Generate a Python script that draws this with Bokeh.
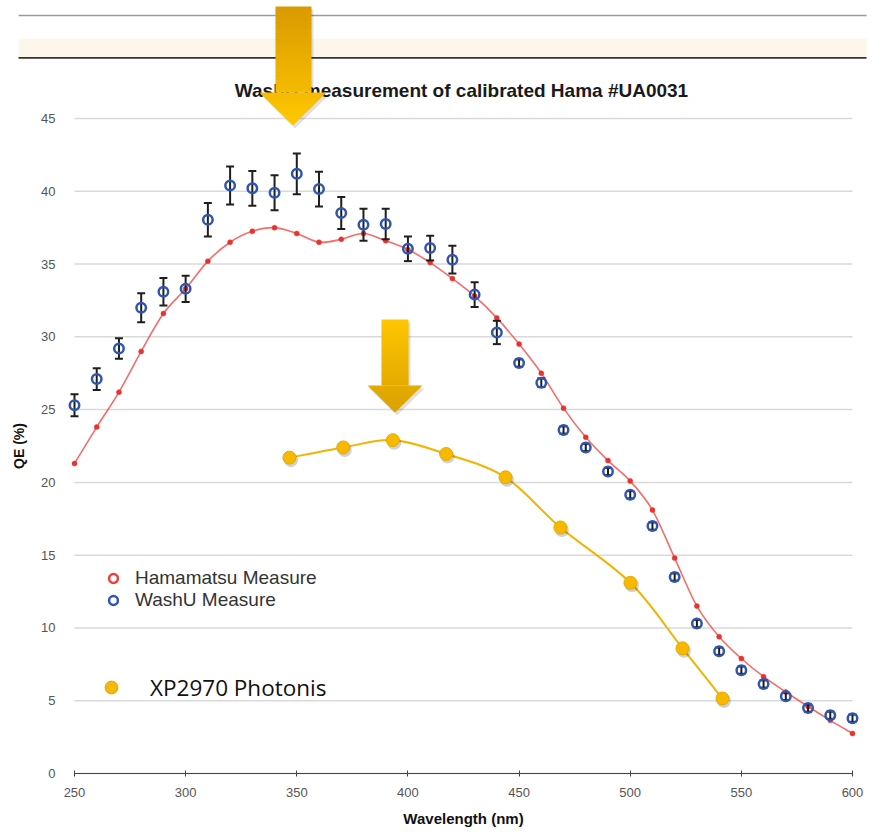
import numpy as np
from bokeh.plotting import figure
from bokeh.models import (Range1d, FixedTicker, Label, PolyAnnotation, Whisker,
                          TeeHead, ColumnDataSource, Legend, LegendItem)
from bokeh.embed import file_html
from bokeh.resources import INLINE

# ---------------- data ----------------
title_text = "WashU measurement of calibrated Hama #UA0031"
x_label = "Wavelength (nm)"
y_label = "QE (%)"
x_ticks = [250, 300, 350, 400, 450, 500, 550, 600]
y_ticks = [0, 5, 10, 15, 20, 25, 30, 35, 40, 45]

hama_wl = [250, 260, 270, 280, 290, 300, 310, 320, 330, 340, 350, 360,
           370, 380, 390, 400, 410, 420, 430, 440, 450, 460, 470, 480,
           490, 500, 510, 520, 530, 540, 550, 560, 570, 580, 590, 600]
hama_qe = [21.3, 23.8, 26.2, 29.0, 31.6, 33.3, 35.2, 36.5, 37.25, 37.5, 37.1, 36.5,
           36.7, 37.1, 36.6, 36.0, 35.1, 34.0, 32.8, 31.3, 29.5, 27.5, 25.1, 23.1,
           21.5, 20.1, 18.1, 14.8, 11.5, 9.4, 7.9, 6.65, 5.6, 4.6, 3.65, 2.75]

washu_wl = hama_wl
washu_qe = [25.3, 27.1, 29.2, 32.0, 33.1, 33.3, 38.05, 40.4, 40.2, 39.9, 41.2, 40.15,
            38.5, 37.7, 37.75, 36.05, 36.1, 35.3, 32.9, 30.3, 28.2, 26.85, 23.6, 22.4,
            20.75, 19.15, 17.0, 13.5, 10.3, 8.4, 7.1, 6.15, 5.3, 4.5, 4.0, 3.8]
washu_err = [0.75, 0.75, 0.7, 1.0, 0.95, 0.9, 1.15, 1.3, 1.2, 1.2, 1.4, 1.2,
             1.1, 1.1, 1.05, 0.85, 0.85, 0.95, 0.85, 0.8, 0.25, 0.3, 0.25, 0.25,
             0.25, 0.25, 0.25, 0.25, 0.25, 0.25, 0.25, 0.25, 0.25, 0.25, 0.25, 0.25]

phot_wl = [346.7, 370.9, 393.2, 417.2, 443.9, 468.6, 500.1, 523.5, 541.5]
phot_qe = [21.7, 22.4, 22.9, 21.95, 20.35, 16.9, 13.1, 8.6, 5.15]

legend_hama = "Hamamatsu Measure"
legend_washu = "WashU Measure"
legend_phot = "XP2970 Photonis"

# ---------------- layout helpers (pixel -> data) ----------------
W, H = 876, 832
FL, FR, FT, FB = 74, 852, 118, 773      # pixel box of the data area
X0, X1, Y0, Y1 = 250, 600, 0, 45


def px2x(px):
    return X0 + (px - FL) * (X1 - X0) / (FR - FL)


def py2y(py):
    return Y0 + (FB - py) * (Y1 - Y0) / (FB - FT)


def catmull_bezier(xs, ys):
    xs = np.asarray(xs, float)
    ys = np.asarray(ys, float)
    n = len(xs)
    px = np.concatenate([[xs[0]], xs, [xs[-1]]])
    py = np.concatenate([[ys[0]], ys, [ys[-1]]])
    i = np.arange(n - 1)
    return dict(x0=xs[:-1], y0=ys[:-1], x1=xs[1:], y1=ys[1:],
                cx0=px[i + 1] + (px[i + 2] - px[i]) / 6.0,
                cy0=py[i + 1] + (py[i + 2] - py[i]) / 6.0,
                cx1=px[i + 2] - (px[i + 3] - px[i + 1]) / 6.0,
                cy1=py[i + 2] - (py[i + 3] - py[i + 1]) / 6.0)


def mix(c1, c2, t):
    a = [int(c1[k:k + 2], 16) for k in (1, 3, 5)]
    b = [int(c2[k:k + 2], 16) for k in (1, 3, 5)]
    return "#%02x%02x%02x" % tuple(int(round(a[j] + (b[j] - a[j]) * t)) for j in range(3))


FONT = "Liberation Sans"

# the frame covers the whole canvas; axes are pinned at data locations
p = figure(width=W, height=H,
           x_range=Range1d(px2x(0), px2x(W)), y_range=Range1d(py2y(H), py2y(0)),
           output_backend="svg", toolbar_location=None,
           min_border=0, min_border_left=0, min_border_right=0,
           min_border_top=0, min_border_bottom=0,
           outline_line_color=None, background_fill_color="white",
           border_fill_color="white")

# axes
p.xaxis.ticker = FixedTicker(ticks=x_ticks)
p.yaxis.ticker = FixedTicker(ticks=y_ticks)
p.xaxis.fixed_location = Y0
p.yaxis.fixed_location = X0
p.xaxis.bounds = (X0, X1)
p.yaxis.bounds = (Y0, Y1)
p.xaxis.axis_label = x_label
p.yaxis.axis_label = y_label
for ax in (p.xaxis[0], p.yaxis[0]):
    ax.major_label_text_font = FONT
    ax.major_label_text_font_size = "13px"
    ax.major_label_text_color = "#555555"
    ax.axis_label_text_font = FONT
    ax.axis_label_text_font_style = "bold"
    ax.axis_label_text_color = "#111111"
    ax.minor_tick_line_color = None
p.xaxis.axis_label_text_font_size = "15px"
p.yaxis.axis_label_text_font_size = "14px"
p.xaxis.axis_line_color = "#444444"
p.xaxis.axis_line_width = 1.2
p.xaxis.major_tick_line_color = "#444444"
p.xaxis.major_tick_in = 3
p.xaxis.major_tick_out = 3
p.xaxis.major_label_standoff = 11
p.xaxis.axis_label_standoff = 10
p.yaxis.axis_line_color = None
p.yaxis.major_tick_line_color = None
p.yaxis.major_tick_in = 0
p.yaxis.major_tick_out = 0
p.yaxis.major_label_standoff = 19
p.yaxis.axis_label_standoff = 11

p.xgrid.visible = False
p.ygrid.visible = False
# horizontal grid lines limited to the data span
p.segment(x0=X0, x1=X1, y0=y_ticks, y1=y_ticks, line_color="#d9d9d9",
          line_width=1.5, level="underlay")

# Hamamatsu: smooth red line + small dots
p.bezier(source=ColumnDataSource(catmull_bezier(hama_wl, hama_qe)),
         x0="x0", y0="y0", x1="x1", y1="y1", cx0="cx0", cy0="cy0", cx1="cx1", cy1="cy1",
         line_color="#f04a45", line_alpha=0.8, line_width=1.6)
p.scatter(hama_wl, hama_qe, marker="circle", size=5, fill_color="#e8322e",
          line_color="#e8322e", line_width=0.5)

# WashU: error bars then open blue circles
wsrc = ColumnDataSource(dict(x=washu_wl, y=washu_qe,
                             upper=[v + e for v, e in zip(washu_qe, washu_err)],
                             lower=[v - e for v, e in zip(washu_qe, washu_err)]))
whisk = Whisker(source=wsrc, base="x", upper="upper", lower="lower", dimension="height",
                line_color="#1e1e1e", line_width=2,
                upper_head=TeeHead(size=8, line_color="#1e1e1e", line_width=2),
                lower_head=TeeHead(size=8, line_color="#1e1e1e", line_width=2),
                level="glyph")
p.renderers.append(whisk)
washu_r = p.scatter("x", "y", source=wsrc, marker="circle", size=9.5, fill_color=None,
                    line_color="#2f55b0", line_width=2.5)

# Photonis: smooth gold line + big dots with a soft shadow
p.bezier(source=ColumnDataSource(catmull_bezier(phot_wl, phot_qe)),
         x0="x0", y0="y0", x1="x1", y1="y1", cx0="cx0", cy0="cy0", cx1="cx1", cy1="cy1",
         line_color="#f2b400", line_width=2)
sh_dx = px2x(FL + 1.5) - px2x(FL)
sh_dy = py2y(FB + 2.5) - py2y(FB)
p.scatter([v + sh_dx for v in phot_wl], [v + sh_dy for v in phot_qe], marker="circle",
          size=14, fill_color="#000000", fill_alpha=0.18, line_color=None)
phot_r = p.scatter(phot_wl, phot_qe, marker="circle", size=13, fill_color="#f7b900",
                   line_color="#e8a900", line_width=1)

# legend-only renderer for Hamamatsu (open red circle)
hama_leg = p.scatter(x=np.array([np.nan]), y=np.array([np.nan]), marker="circle", size=9,
                     fill_color=None, line_color="#e8403a", line_width=2.5)


# ---------------- slide decorations ----------------
def band(x0, x1, y0, y1, color, alpha=1.0):
    p.add_layout(PolyAnnotation(xs=[px2x(x0), px2x(x1), px2x(x1), px2x(x0)],
                                ys=[py2y(y0), py2y(y0), py2y(y1), py2y(y1)],
                                fill_color=color, fill_alpha=alpha, line_color=None))


band(18, 866, 14.2, 15.8, "#9a9a9a")
band(18, 866, 38, 56.5, "#fcf7ea")
band(18, 866, 56.5, 58.3, "#333333")

p.add_layout(Label(x=px2x(461), y=py2y(90), text=title_text, text_align="center",
                   text_baseline="middle", text_font=FONT, text_font_size="19px",
                   text_font_style="bold", text_color="#1a1a1a"))


def arrow(sx0, sx1, top, hy, hx0, hx1, tipx, tipy, c_top, c_bot, n=36):
    shp = [(sx0, top), (sx1, top), (sx1, hy), (hx1, hy), (tipx, tipy), (hx0, hy), (sx0, hy)]
    p.add_layout(PolyAnnotation(xs=[px2x(a + 2) for a, b in shp],
                                ys=[py2y(b + 3) for a, b in shp],
                                fill_color="#000000", fill_alpha=0.12, line_color=None))
    n1 = max(2, int(n * (hy - top) / (tipy - top)))
    n2 = max(2, n - n1)
    edges = list(np.linspace(top, hy, n1 + 1)) + list(np.linspace(hy, tipy, n2 + 1))[1:]
    cx = tipx
    half = (hx1 - hx0) / 2.0

    def hw(y):
        return half * (tipy - y) / (tipy - hy)

    for ya, yb in zip(edges[:-1], edges[1:]):
        t = ((ya + yb) / 2 - top) / (tipy - top)
        col = mix(c_top, c_bot, t)
        if yb <= hy + 1e-9:
            ybb = min(yb + 0.7, hy) if yb < hy else yb
            pts = [(sx0, ya), (sx1, ya), (sx1, ybb), (sx0, ybb)]
        else:
            ybb = min(yb + 0.7, tipy)
            pts = [(cx - hw(ya), ya), (cx + hw(ya), ya), (cx + hw(ybb), ybb), (cx - hw(ybb), ybb)]
        p.add_layout(PolyAnnotation(xs=[px2x(a) for a, b in pts], ys=[py2y(b) for a, b in pts],
                                    fill_color=col, fill_alpha=1.0, line_color=None))


arrow(275, 311, 6, 92, 259, 326, 292.5, 125, "#d99a00", "#ffc800")
arrow(381, 408, 319, 385, 367, 422, 394.5, 412, "#ffc600", "#d9a000")

# ---------------- legends (location measured from the canvas bottom-left) ----------------
leg1 = Legend(items=[LegendItem(label=legend_hama, renderers=[hama_leg]),
                     LegendItem(label=legend_washu, renderers=[washu_r])],
              location=(101, H - 611), orientation="vertical",
              glyph_width=24, glyph_height=22, label_height=22, spacing=0,
              padding=0, margin=0, label_standoff=10,
              border_line_color=None, background_fill_alpha=0,
              label_text_font=FONT, label_text_font_size="19px", label_text_color="#333333")
leg2 = Legend(items=[LegendItem(label=legend_phot, renderers=[phot_r])],
              location=(95, H - 703), orientation="vertical",
              glyph_width=32, glyph_height=32, label_height=32, spacing=0,
              padding=0, margin=0, label_standoff=23,
              border_line_color=None, background_fill_alpha=0,
              label_text_font="Open Sans", label_text_font_size="22.5px",
              label_text_color="#111111")
p.add_layout(leg1)
p.add_layout(leg2)

open("out.html", "w").write(file_html(p, INLINE))
